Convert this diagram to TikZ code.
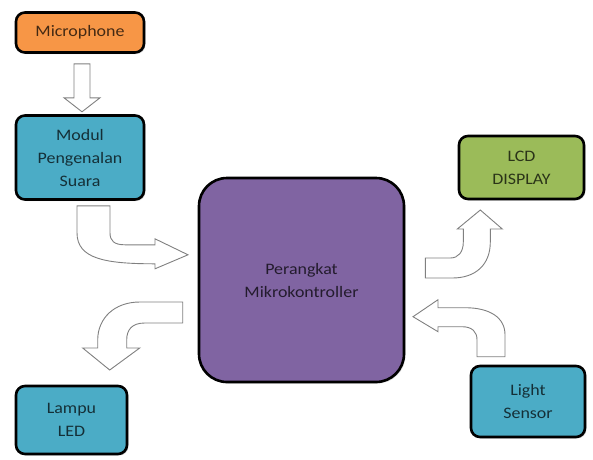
\documentclass[tikz,border=0pt]{standalone}
\usepackage{fontspec}
\setmainfont{Carlito}[FakeStretch=1.12]
\usetikzlibrary{shadows}

\definecolor{unitorange}{HTML}{F79646}
\definecolor{unitblue}{HTML}{4BACC6}
\definecolor{unitpurple}{HTML}{8064A2}
\definecolor{unitgreen}{HTML}{9BBB59}

\begin{document}
\begin{tikzpicture}[
        x=1pt, y=-1pt,
        unit/.style={
            rectangle,
            draw=black,
            line width=2.6pt,
            rounded corners=9pt,
            align=center,
            inner sep=0pt,
            text=black,
            text opacity=0.72,
            font=\fontsize{16}{23}\selectfont,
            drop shadow={opacity=0.25, shadow xshift=1.5pt, shadow yshift=-1.5pt}
        },
        blockarrow/.style={
            draw=black!50,
            line width=0.9pt,
            fill=white,
            line join=miter
        }
    ]

        \useasboundingbox (0,0) rectangle (593,459);

        \node[unit, fill=unitorange, minimum width=128pt, minimum height=40pt] (mic) at (80,32.5) {Microphone};
        \node[unit, fill=unitblue, minimum width=128pt, minimum height=84pt] (modul) at (80,157.5) {Modul\\Pengenalan\\Suara};
        \node[unit, fill=unitpurple, rounded corners=28pt, minimum width=205pt, minimum height=204pt] (mcu) at (301.5,280) {Perangkat\\Mikrokontroller};
        \node[unit, fill=unitgreen, minimum width=125pt, minimum height=63pt] (lcd) at (521.5,167.5) {LCD\\DISPLAY};
        \node[unit, fill=unitblue, minimum width=114pt, minimum height=71pt] (light) at (528,401.5) {Light\\Sensor};
        \node[unit, fill=unitblue, minimum width=111pt, minimum height=68pt] (lampu) at (71.5,420) {Lampu\\LED};

        % microphone -> modul
        \begin{scope}[shift={(mic.south)}]
            \draw[blockarrow] (-6,10) -- (-6,44) -- (-16,44) -- (2,58) -- (20,44) -- (10,44) -- (10,10) -- cycle;
        \end{scope}

        % modul -> mikrokontroller
        \begin{scope}[shift={(modul.south)}]
            \draw[blockarrow] (-3,5) -- (-3,32) .. controls (-3,58) and (25,63) .. (75,63) -- (75,68) -- (108,54)
                -- (75,38) -- (75,44) -- (45,44) .. controls (34,44) and (30,40) .. (30,32) -- (30,5) -- cycle;
        \end{scope}

        % mikrokontroller -> lampu
        \begin{scope}[shift={(mcu.west)}]
            \draw[blockarrow] (-15,22) -- (-58,22) .. controls (-83,22) and (-100,38) .. (-100,60) -- (-100,68) -- (-115,68)
                -- (-88,90) -- (-58,68) -- (-71,68) -- (-71,60) .. controls (-71,50) and (-66,43) .. (-53,43) -- (-15,43) -- cycle;
        \end{scope}

        % mikrokontroller -> lcd
        \begin{scope}[shift={(mcu.east)}]
            \draw[blockarrow] (20,-22) -- (45,-22) .. controls (53,-22) and (58,-28) .. (58,-38) -- (58,-51) -- (52,-51)
                -- (75,-70) -- (97,-51) -- (85,-51) -- (85,-38) .. controls (85,-15) and (70,-2) .. (47,-2) -- (20,-2) -- cycle;
        \end{scope}

        % light sensor -> mikrokontroller
        \begin{scope}[shift={(light.north)}]
            \draw[blockarrow] (-51,-8) -- (-51,-25) .. controls (-51,-33) and (-56,-38) .. (-66,-38) -- (-90,-38) -- (-90,-33)
                -- (-115,-48) -- (-90,-65) -- (-90,-57) -- (-63,-57) .. controls (-38,-57) and (-23,-47) .. (-23,-30) -- (-23,-8) -- cycle;
        \end{scope}

    \end{tikzpicture}
\end{document}
